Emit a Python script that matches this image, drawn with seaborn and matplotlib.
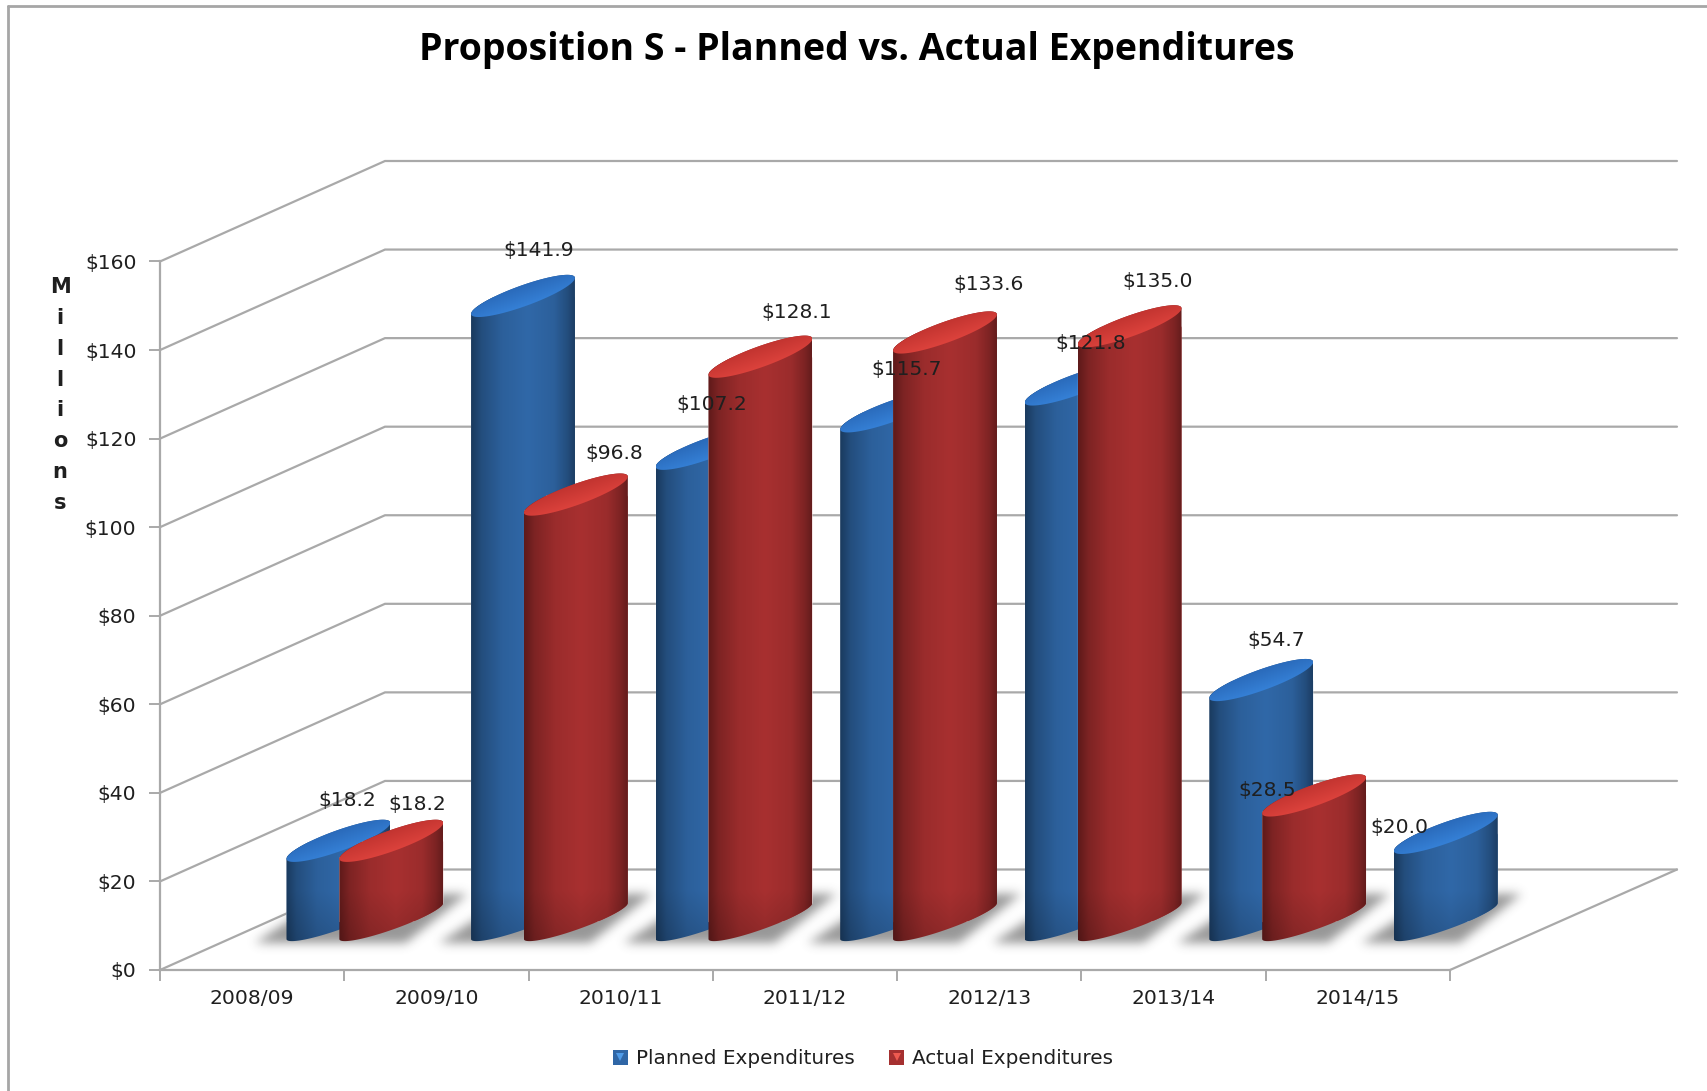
import numpy as np
import pandas as pd
import seaborn as sns
import matplotlib.pyplot as plt
from matplotlib.lines import Line2D
from matplotlib.legend_handler import HandlerTuple
from matplotlib.patches import Patch
from matplotlib.path import Path
from matplotlib.ticker import FixedLocator

# dados (milhoes de dolares)
years = ["2008/09", "2009/10", "2010/11", "2011/12", "2012/13", "2013/14", "2014/15"]
planned = [18.2, 141.9, 107.2, 115.7, 121.8, 54.7, 20.0]
actual = [18.2, 96.8, 128.1, 133.6, 135.0, 28.5, np.nan]
y_ticks = [0, 20, 40, 60, 80, 100, 120, 140, 160]
y_labels = ["$0", "$20", "$40", "$60", "$80", "$100", "$120", "$140", "$160"]
series_names = ["Planned Expenditures", "Actual Expenditures"]

# deslocamento manual dos rotulos, em pixels, a partir do topo da barra
planned_offsets = [(9, 40), (16, 45), (4, 44), (14, 42), (14, 41), (15, 40), (-46, 5)]
actual_offsets = [(26, 36), (38, 41), (36, 44), (44, 48), (28, 45), (-47, 5), (0, 0)]

W, H = 1707, 1091
FRONT_L, FRONT_R, FRONT_Y0, FRONT_Y160 = 160, 1450, 970, 261.5
PX_CAT = (FRONT_R - FRONT_L) / 7
PX_USD = (FRONT_Y0 - FRONT_Y160) / 160
DEPTH_X, DEPTH_Y = 225, 100.5
DEPTH_X_RIGHT = 227
BAR_SHIFT_X, BAR_BASE_Y = 112.6, 921
BAR_PX_USD = 4.405
BAR_PX_CAT = PX_CAT + 2 / 7.2
RISE, THICK = 18, 11

GRID = "#a9a9a9"
TEXT = "#1f1f1f"

sns.set_theme(style="white")
plt.rcParams['font.family'] = ['DejaVu Sans']

fig = plt.figure(figsize=(W / 100, H / 100), dpi=100, facecolor="white")


def axes_from_px(left, right, top, bottom):
    return fig.add_axes([left / W, 1 - bottom / H, (right - left) / W, (bottom - top) / H])


# plano frontal: eixos, paredes e grade
ax = axes_from_px(FRONT_L, FRONT_R, FRONT_Y160, FRONT_Y0)
ax.set_xlim(-0.5, 6.5)
ax.set_ylim(0, 160)
ax.patch.set_visible(False)
sns.despine(ax=ax)
for side in ["left", "bottom"]:
    ax.spines[side].set_color(GRID)
    ax.spines[side].set_linewidth(1.6)
ax.set_yticks(y_ticks, y_labels)
ax.xaxis.set_major_locator(FixedLocator(np.arange(-0.5, 7, 1)))
ax.set_xticklabels([])
ax.set_xticks(range(7), years, minor=True)
ax.tick_params(axis="x", which="major", length=8, width=1.4, color=GRID, bottom=True)
ax.tick_params(axis="x", which="minor", length=0, labelsize=14.6, labelcolor=TEXT, pad=14)
ax.tick_params(axis="y", length=8, width=1.4, color=GRID, left=True, labelsize=14.6,
               labelcolor=TEXT, pad=9)

dx = DEPTH_X / PX_CAT
dx_right = DEPTH_X_RIGHT / PX_CAT
dy = DEPTH_Y / PX_USD
for val in y_ticks:
    ax.plot([-0.5, -0.5 + dx, 6.5 + dx_right], [val, val + dy, val + dy], color=GRID, lw=1.6,
            clip_on=False, zorder=1, solid_joinstyle="miter")
ax.plot([6.5, 6.5 + dx_right], [0, dy], color=GRID, lw=1.6, clip_on=False, zorder=1)

ax.set_ylabel("M\ni\nl\nl\ni\no\nn\ns", rotation=0, fontweight="bold", fontsize=15,
              color=TEXT, ha="center", va="center", linespacing=1.67)
ax.yaxis.set_label_coords((60 - FRONT_L) / (FRONT_R - FRONT_L),
                          1 - (395 - FRONT_Y160) / (FRONT_Y0 - FRONT_Y160))

# plano das barras: meio do piso, limites um pouco maiores por causa das sombras
bar_left = FRONT_L + BAR_SHIFT_X - 0.2 * BAR_PX_CAT
bar_right = bar_left + 7.2 * BAR_PX_CAT
bar_ax = axes_from_px(bar_left, bar_right, BAR_BASE_Y - 160 * BAR_PX_USD,
                      BAR_BASE_Y + 15 * BAR_PX_USD)

df = pd.DataFrame({
    "year": years * 2,
    "kind": [series_names[0]] * 7 + [series_names[1]] * 7,
    "value": planned + actual,
})
palette = {series_names[0]: "#2f66a6", series_names[1]: "#a53030"}
sns.barplot(data=df, x="year", y="value", hue="kind", order=years, palette=palette,
            saturation=1, width=0.573, gap=-0.965, legend=False, ax=bar_ax)

styles = [
    {"dark": np.array([0x1a, 0x3a, 0x5e]), "light": np.array([0x30, 0x68, 0xa8]),
     "cap_a": np.array([0x2a, 0x6a, 0xba]), "cap_b": np.array([0x35, 0x80, 0xd6])},
    {"dark": np.array([0x5e, 0x1a, 0x1a]), "light": np.array([0xa8, 0x30, 0x30]),
     "cap_a": np.array([0xc2, 0x34, 0x30]), "cap_b": np.array([0xdc, 0x42, 0x3c])},
]
offsets = [planned_offsets, actual_offsets]

u_stops = [0, 0.1, 0.3, 0.55, 0.8, 0.93, 1]
v_stops = [0, 0.42, 0.82, 1, 0.82, 0.42, 0.08]
t_upper = np.linspace(0, np.pi, 60)
t_lower = np.linspace(np.pi, 2 * np.pi, 60)

bars = []
for hue_i, container in enumerate(bar_ax.containers):
    for rect in container:
        h = rect.get_height()
        if np.isnan(h) or h <= 0:
            continue
        bars.append((round(rect.get_x() + rect.get_width() / 2), hue_i, rect))
bars.sort(key=lambda b: (b[0], b[1]))

# sombra no piso: mascara das barras desfocada com gaussiana
gx = np.linspace(-0.7, 6.5, int(7.2 * BAR_PX_CAT))
gy = np.linspace(60, -15, int(75 * BAR_PX_USD))
mesh = np.column_stack([c.ravel() for c in np.meshgrid(gx, gy)])
mask = np.zeros(len(mesh), dtype=bool)
for cat, hue_i, rect in bars:
    x0, x1 = rect.get_x(), rect.get_x() + rect.get_width()
    pts = [(x0 - 32 / BAR_PX_CAT, -22 / BAR_PX_USD), (x0 + 11 / BAR_PX_CAT, 6 / BAR_PX_USD),
           (x1, 27 / BAR_PX_USD), (x1 + 24 / BAR_PX_CAT, 27 / BAR_PX_USD),
           (x1 - 38 / BAR_PX_CAT, -22 / BAR_PX_USD)]
    mask |= Path(pts).contains_points(mesh)
mask = mask.reshape(len(gy), len(gx)).astype(float)
kernel = np.exp(-0.5 * (np.arange(-15, 16) / 5.0) ** 2)
kernel /= kernel.sum()
blur = np.apply_along_axis(lambda r: np.convolve(r, kernel, mode="same"), 0, mask)
blur = np.apply_along_axis(lambda r: np.convolve(r, kernel, mode="same"), 1, blur)
shadow_img = np.zeros(blur.shape + (4,))
shadow_img[..., :3] = 0.3
shadow_img[..., 3] = blur * 0.58
bar_ax.imshow(shadow_img, extent=[gx[0], gx[-1], gy[-1], gy[0]], aspect="auto", zorder=2)

for n, (cat, hue_i, rect) in enumerate(bars):
    st = styles[hue_i]
    x0, x1 = rect.get_x(), rect.get_x() + rect.get_width()
    top = rect.get_height()
    cx = (x0 + x1) / 2
    half = (x1 - x0) / 2
    a = RISE / BAR_PX_USD
    b = THICK / BAR_PX_USD
    z = 3 + n * 0.1

    # corpo do cilindro: curva inferior da base + curva superior do topo
    low_x = cx + half * np.cos(t_lower)
    low_y = a * np.cos(t_lower) + (THICK - 2) / BAR_PX_USD * np.sin(t_lower)
    up_x = cx + half * np.cos(t_upper)
    up_y = top + a * np.cos(t_upper) + b * np.sin(t_upper)
    body = Path(np.column_stack([np.r_[low_x, up_x], np.r_[low_y, up_y]]), closed=False)

    rect.set_zorder(z)
    rect.set_clip_path(body, bar_ax.transData)

    u = np.linspace(0, 1, 200)
    shade = np.interp(u, u_stops, v_stops)[None, :, None]
    rgb = st["dark"] + (st["light"] - st["dark"]) * shade
    y_top, y_low = top + a + b, -a - b
    rows = np.linspace(y_top, y_low, 200)
    ramp = np.clip((rows * BAR_PX_USD + 50) / 80, 0, 1)
    rgb = rgb * (0.76 + 0.24 * ramp)[:, None, None]
    im = bar_ax.imshow(rgb / 255, extent=[x0, x1, y_low, y_top], aspect="auto",
                       interpolation="bilinear", zorder=z + 0.01)
    im.set_clip_path(body, bar_ax.transData)

    # tampa eliptica, mais clara na borda da frente
    cap_x = cx + half * np.cos(np.r_[t_upper, t_lower])
    cap_y = top + a * np.cos(np.r_[t_upper, t_lower]) + b * np.sin(np.r_[t_upper, t_lower])
    cap = Path(np.column_stack([cap_x, cap_y]), closed=False)
    xs = np.linspace(-1, 1, 120)
    ys = np.linspace(1, -1, 60) * (a + b)
    d = (ys[:, None] - a * xs[None, :]) / b
    w = np.clip((1 - d) / 2, 0, 1)[:, :, None]
    cap_rgb = st["cap_a"] + (st["cap_b"] - st["cap_a"]) * w
    im2 = bar_ax.imshow(cap_rgb / 255, extent=[x0, x1, top - a - b, top + a + b], aspect="auto",
                        interpolation="bilinear", zorder=z + 0.02)
    im2.set_clip_path(cap, bar_ax.transData)

    bar_ax.annotate(f"${top:.1f}", (cx, top), xytext=offsets[hue_i][cat],
                    textcoords="offset pixels", ha="center", va="center",
                    fontsize=14.6, color=TEXT, zorder=20)

bar_ax.set_xlim(-0.7, 6.5)
bar_ax.set_ylim(-15, 160)
bar_ax.set_axis_off()

# legenda com o triangulo claro dentro do quadradinho
handles = []
for name, tri_color in zip(series_names, ["#4f9be8", "#ee5a50"]):
    square = Patch(facecolor=palette[name], edgecolor="none")
    tri = Line2D([], [], marker="v", ls="none", markersize=5.5, color=tri_color, mew=0)
    handles.append((square, tri))
bar_ax.legend(handles, series_names, loc="center", bbox_to_anchor=(863 / W, 1 - 1059 / H),
              bbox_transform=fig.transFigure, ncol=2, frameon=False, fontsize=14.4,
              labelcolor=TEXT, handlelength=0.72, handleheight=0.72, handletextpad=0.4,
              columnspacing=1.75, handler_map={tuple: HandlerTuple(ndivide=1, pad=0)})

fig.text(857 / W, 1 - 50 / H, "Proposition S - Planned vs. Actual Expenditures",
         family="Open Sans", fontweight="bold", fontsize=27, color="black",
         ha="center", va="center")

# moldura cinza do grafico (so topo e esquerda aparecem)
fig.add_artist(Line2D([8 / W, 1], [1 - 6 / H, 1 - 6 / H], color="#a6a6a6", lw=2))
fig.add_artist(Line2D([8 / W, 8 / W], [0, 1 - 6 / H], color="#a6a6a6", lw=2))

fig.savefig("out.png", dpi=100)
